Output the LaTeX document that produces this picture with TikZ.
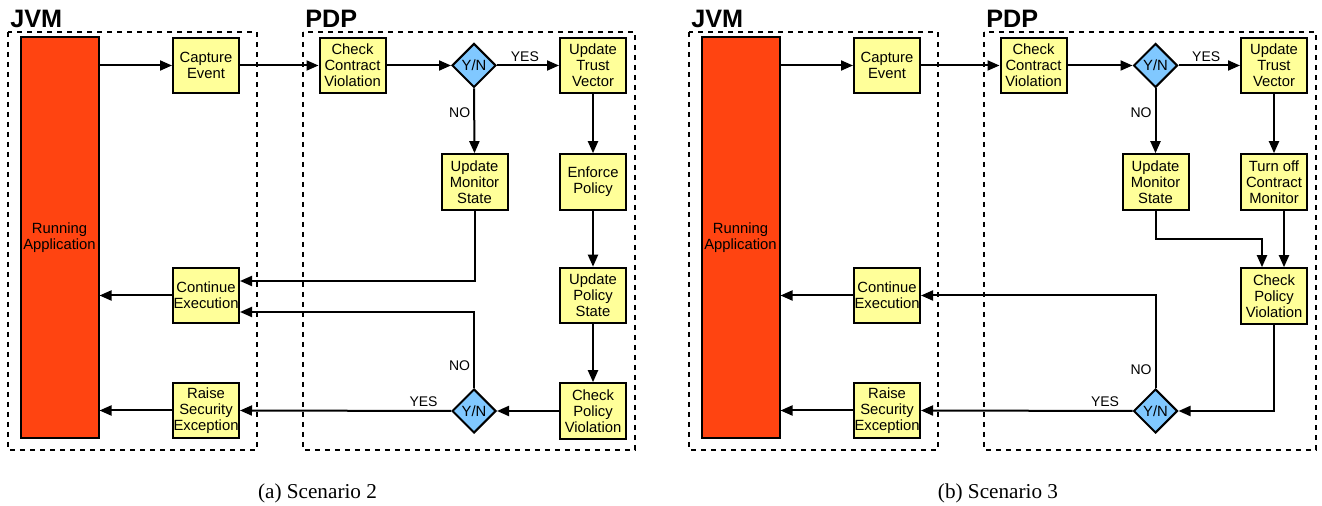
\documentclass[tikz,border=0pt]{standalone}
\usepackage{fontspec}
\setmainfont{Liberation Sans}
\newfontfamily\capfont{Liberation Serif}
\usetikzlibrary{shapes.geometric,arrows.meta,calc}
\definecolor{boxyellow}{HTML}{FFFF99}
\definecolor{appred}{HTML}{FF4411}
\definecolor{diablue}{HTML}{80C8FF}
\tikzset{
  box/.style={draw, line width=1pt, fill=boxyellow, minimum width=33pt, minimum height=27.8pt,
    inner sep=0pt, align=center, font=\fontsize{7.4}{8.1}\selectfont},
  app/.style={draw, line width=1pt, fill=appred, minimum width=39pt, minimum height=200.5pt,
    inner sep=0pt, align=center, font=\fontsize{7.4}{8.1}\selectfont},
  yn/.style={diamond, draw, line width=1pt, fill=diablue, minimum width=22pt, minimum height=22pt,
    inner sep=0pt, font=\fontsize{7.4}{8.1}\selectfont},
  region/.style={line width=1pt, dash pattern=on 2.5pt off 2.5pt},
  title/.style={anchor=base west, inner sep=0pt, font=\fontsize{12.6}{14}\selectfont\bfseries},
  arr/.style={line width=1pt, -{Triangle[length=6pt,width=5pt]}},
  lbl/.style={inner sep=1.5pt, font=\fontsize{7}{8}\selectfont},
  captext/.style={inner sep=0pt, font=\capfont\fontsize{10.6}{12}\selectfont}
}
\begin{document}
\begin{tikzpicture}[x=0.5pt,y=-0.5pt]
\useasboundingbox (0,0) rectangle (1322,506);

% ---------------- Scenario 2 ----------------
\draw[region] (8,32) rectangle (257,450);
\draw[region] (303,32) rectangle (635,450);
\node[title] (aJVM) at (10,28) {JVM};
\node[title] (aPDP) at (305,28) {PDP};

\node[app] (aRA) at (59.5,238) {Running\\Application};
\node[box] (aCE) at (206,65.5) {Capture\\Event};
\node[box] (aCCV) at (352.5,65.5) {Check\\Contract\\Violation};
\node[yn] (aD1) at (474,65.5) {Y/N};
\node[box] (aUTV) at (593,65.5) {Update\\Trust\\Vector};
\node[box] (aUMS) at (474.5,182) {Update\\Monitor\\State};
\node[box] (aEP) at (593,182) {Enforce\\Policy};
\node[box] (aUPS) at (593,295.5) {Update\\Policy\\State};
\node[box] (aCPV) at (593,411) {Check\\Policy\\Violation};
\node[yn] (aD2) at (474,411) {Y/N};
\node[box] (aCont) at (206,295.5) {Continue\\Execution};
\node[box] (aRSE) at (206,410.5) {Raise\\Security\\Exception};

\draw[arr] (aRA.east |- aCE.west) -- (aCE.west);
\draw[arr] (aCE.east) -- (aCCV.west);
\draw[arr] (aCCV.east) -- (aD1.west);
\draw[arr] (aD1.east) -- node[lbl, above, pos=0.45] (aYes1) {YES} (aUTV.west);
\draw[arr] (aD1.south) -- node[lbl, left, pos=0.38] (aNo1) {NO} (aUMS.north);
\draw[arr] (aUTV.south) -- (aEP.north);
\draw[arr] (aEP.south) -- (aUPS.north);
\draw[arr] (aUPS.south) -- (aCPV.north);
\draw[arr] (aCPV.west) -- (aD2.east);
\draw[arr] (aD2.west) -- node[lbl, above, pos=0.13] (aYes2) {YES} (aRSE.east);
\draw[arr] (aD2.north) |- node[lbl, left, pos=0.15] (aNo2) {NO} ($(aCont.east)+(0,16.5)$);
\draw[arr] (aUMS.south) |- ($(aCont.east)+(0,-14.5)$);
\draw[arr] (aCont.west) -- (aCont.west -| aRA.east);
\draw[arr] (aRSE.west) -- (aRSE.west -| aRA.east);

\node[captext] (acap) at (317.5,493) {(a) Scenario 2};

% ---------------- Scenario 3 ----------------
\draw[region] (689,32) rectangle (938,450);
\draw[region] (984,32) rectangle (1316,450);
\node[title] (bJVM) at (691,28) {JVM};
\node[title] (bPDP) at (986,28) {PDP};

\node[app] (bRA) at (740.5,238) {Running\\Application};
\node[box] (bCE) at (887,65.5) {Capture\\Event};
\node[box] (bCCV) at (1033.5,65.5) {Check\\Contract\\Violation};
\node[yn] (bD1) at (1155.5,65.5) {Y/N};
\node[box] (bUTV) at (1274,65.5) {Update\\Trust\\Vector};
\node[box] (bUMS) at (1155.5,182) {Update\\Monitor\\State};
\node[box] (bTCM) at (1274,182) {Turn off\\Contract\\Monitor};
\node[box] (bCPV) at (1274,296) {Check\\Policy\\Violation};
\node[yn] (bD2) at (1155.5,411) {Y/N};
\node[box] (bCont) at (887,295.5) {Continue\\Execution};
\node[box] (bRSE) at (887,410.5) {Raise\\Security\\Exception};

\draw[arr] (bRA.east |- bCE.west) -- (bCE.west);
\draw[arr] (bCE.east) -- (bCCV.west);
\draw[arr] (bCCV.east) -- (bD1.west);
\draw[arr] (bD1.east) -- node[lbl, above, pos=0.45] (bYes1) {YES} (bUTV.west);
\draw[arr] (bD1.south) -- node[lbl, left, pos=0.38] (bNo1) {NO} (bUMS.north);
\draw[arr] (bUTV.south) -- (bTCM.north);
\draw[arr] (bUMS.south) -- ++(0,28) -| ($(bCPV.north)+(-12,0)$);
\draw[arr] ($(bTCM.south)+(10,0)$) -- ($(bCPV.north)+(10,0)$);
\draw[arr] (bCPV.south) |- (bD2.east);
\draw[arr] (bD2.west) -- node[lbl, above, pos=0.13] (bYes2) {YES} (bRSE.east);
\draw[arr] (bD2.north) |- node[lbl, left, pos=0.1] (bNo2) {NO} (bCont.east);
\draw[arr] (bCont.west) -- (bCont.west -| bRA.east);
\draw[arr] (bRSE.west) -- (bRSE.west -| bRA.east);

\node[captext] (bcap) at (998,493) {(b) Scenario 3};
\end{tikzpicture}
\end{document}
